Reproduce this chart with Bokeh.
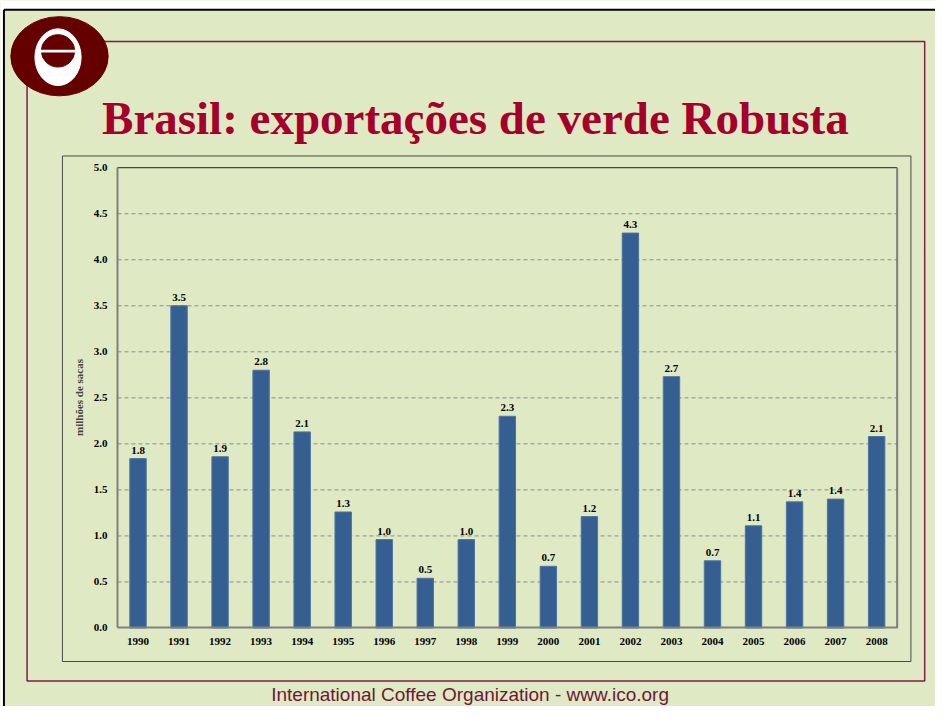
from bokeh.plotting import figure
from bokeh.models import (ColumnDataSource, LabelSet, Label, FixedTicker, Range1d,
                          LinearAxis, PrintfTickFormatter)
from bokeh.embed import file_html
from bokeh.resources import INLINE

years = [1990, 1991, 1992, 1993, 1994, 1995, 1996, 1997, 1998, 1999,
         2000, 2001, 2002, 2003, 2004, 2005, 2006, 2007, 2008]
exports = [1.84, 3.50, 1.86, 2.80, 2.13, 1.26, 0.96, 0.54, 0.96, 2.30,
           0.67, 1.21, 4.29, 2.73, 0.73, 1.11, 1.37, 1.40, 2.08]
y_ticks = [0.0, 0.5, 1.0, 1.5, 2.0, 2.5, 3.0, 3.5, 4.0, 4.5, 5.0]
title_text = "Brasil: exportações de verde Robusta"
y_title = "milhões de sacas"
footer_text = "International Coffee Organization  -  www.ico.org"

BG = "#DFE9C4"
BAR = "#365F91"
MAROON = "#7F1D45"
LOGO = "#650000"
W, H = 935, 706          # figure size
RW, RH = 951, 722        # reference design size (decoration coordinate space)
PL, PR, PT, PB = 119, 912, 171, 641.7   # plot area in design space

# ranges so that the plot area lands at PL..PR / PT..PB of the whole canvas
x0, x1 = years[0] - 0.5, years[-1] + 0.5
ppu = (PR - PL) / (x1 - x0)
ymax = y_ticks[-1]
ppv = (PB - PT) / ymax

p = figure(width=W, height=H, output_backend="svg", toolbar_location=None,
           x_range=Range1d(x0 - PL / ppu, x1 + (RW - PR) / ppu),
           y_range=Range1d(-(RH - PB) / ppv, ymax + PT / ppv),
           x_axis_location=None, y_axis_location=None,
           min_border=0, min_border_left=0, min_border_right=0, min_border_top=0, min_border_bottom=0,
           background_fill_color=BG, border_fill_color=BG)
p.outline_line_color = None
p.grid.visible = False
p.extra_x_ranges = {"px": Range1d(0, RW)}
p.extra_y_ranges = {"py": Range1d(RH, 0)}
D = dict(x_range_name="px", y_range_name="py")

# ---- slide decorations (design-space pixel coordinates) ----
p.quad(left=0, right=RW, top=0, bottom=9, fill_color="white", line_color=None, **D)
p.quad(left=0, right=3, top=0, bottom=RH, fill_color="white", line_color=None, **D)
p.segment(x0=[3.5, 3.5], y0=[9.5, 9.5], x1=[3.5, RW], y1=[RH, 9.5], line_color="black", line_width=2, **D)
p.quad(left=27, right=940, top=42, bottom=696, fill_color=None, line_color=MAROON, line_width=1.5, **D)
p.quad(left=63, right=926, top=159, bottom=676, fill_color=None, line_color="#4A4A44", line_width=1, **D)

# logo
p.ellipse(x=60, y=57, width=99, height=81, fill_color=LOGO, line_color=LOGO, **D)
p.ellipse(x=58.5, y=58, width=47, height=58, fill_color="white", line_color="white", **D)
p.ellipse(x=58.5, y=51.5, width=34, height=33, fill_color=LOGO, line_color=LOGO, **D)
p.quad(left=40, right=77, top=50.3, bottom=53.3, fill_color="white", line_color=None, **D)

p.add_layout(Label(x=483, y=120, text=title_text, text_align="center", text_baseline="middle",
                   text_font="Liberation Serif", text_font_style="bold", text_font_size="47px",
                   text_color="#A4002B", **D))
p.add_layout(Label(x=483, y=710, text=footer_text, text_align="center", text_baseline="middle",
                   text_font="Liberation Sans", text_font_size="19px", text_color="#6E1838", **D))

# ---- chart ----
src = ColumnDataSource(dict(year=years, v=exports, lab=[f"{x:.1f}" for x in exports]))

grid_y = y_ticks[1:-1]
p.segment(x0=[x0] * len(grid_y), y0=grid_y, x1=[x1] * len(grid_y), y1=grid_y,
          line_color="#8C8C8C", line_dash="4 3", line_width=1)
p.segment(x0=[x0], y0=[ymax], x1=[x1], y1=[ymax], line_color="#202020", line_width=1)
p.segment(x0=[x1], y0=[0], x1=[x1], y1=[ymax], line_color="#7F7F7F", line_width=2)

p.vbar(x="year", top="v", width=0.4, source=src, fill_color=BAR, line_color="#4F74A3", line_width=1)

p.add_layout(LabelSet(x="year", y="v", text="lab", source=src, y_offset=5,
                      text_align="center", text_baseline="bottom",
                      text_font="Liberation Serif", text_font_style="bold", text_font_size="11px",
                      text_color="black"))

yaxis = LinearAxis(fixed_location=x0, bounds=(0, ymax), ticker=FixedTicker(ticks=y_ticks),
                   formatter=PrintfTickFormatter(format="%.1f"))
xaxis = LinearAxis(fixed_location=0, bounds=(x0, x1), ticker=FixedTicker(ticks=years),
                   formatter=PrintfTickFormatter(format="%d"))
for ax in (xaxis, yaxis):
    ax.major_label_text_font = "Liberation Serif"
    ax.major_label_text_font_style = "bold"
    ax.major_label_text_font_size = "11px"
    ax.major_label_text_color = "black"
    ax.major_tick_out = 0
    ax.major_tick_in = 0
    ax.minor_tick_out = 0
    ax.minor_tick_in = 0
    ax.axis_line_color = "#808080"
    ax.axis_line_width = 2
yaxis.major_label_standoff = 10
xaxis.major_label_standoff = 10
yaxis.axis_label = y_title
yaxis.axis_label_text_font = "Liberation Serif"
yaxis.axis_label_text_font_style = "bold"
yaxis.axis_label_text_font_size = "11px"
yaxis.axis_label_standoff = 6
p.add_layout(yaxis, "left")
p.add_layout(xaxis, "below")

open("out.html", "w").write(file_html(p, INLINE))
